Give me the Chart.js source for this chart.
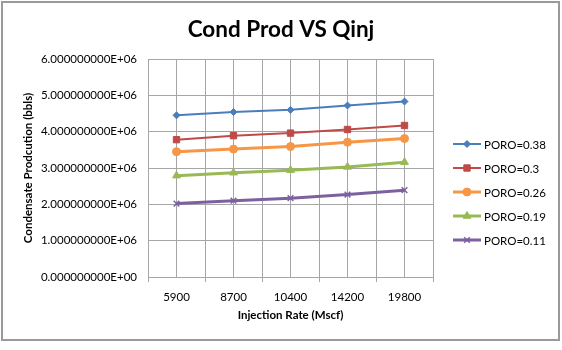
<!DOCTYPE html>
<html>
<head>
<meta charset="utf-8">
<script src="https://cdn.jsdelivr.net/npm/chart.js@4.4.0/dist/chart.umd.min.js"></script>
<style>
  html, body { margin: 0; padding: 0; background: #fff; }
  #wrap { width: 562px; height: 350px; }
</style>
</head>
<body>
<div id="wrap"><canvas id="chartCanvas" width="562" height="350"></canvas></div>
<script>
// data
const categories = ['5900', '8700', '10400', '14200', '19800'];
const seriesNames = ['PORO=0.38', 'PORO=0.3', 'PORO=0.26', 'PORO=0.19', 'PORO=0.11'];
const poro038 = [4450000, 4540000, 4600000, 4720000, 4830000];
const poro030 = [3780000, 3890000, 3960000, 4060000, 4170000];
const poro026 = [3450000, 3520000, 3590000, 3710000, 3810000];
const poro019 = [2790000, 2870000, 2940000, 3030000, 3160000];
const poro011 = [2020000, 2100000, 2170000, 2270000, 2390000];
const yTicks = [0, 1000000, 2000000, 3000000, 4000000, 5000000, 6000000];
const chartTitle = 'Cond Prod VS Qinj';

const colors = ['#4A7EBB', '#BE4B48', '#F79646', '#98B954', '#7D60A0'];
const markers = ['rectRot', 'rect', 'circle', 'triangle', 'crossRot'];
const markerSizes = [3.5, 4.5, 4, 4.5, 4];
const lineWidths = [2, 2, 3, 3, 3];
const seriesValues = [poro038, poro030, poro026, poro019, poro011];

const FONT = 'Lato, "Open Sans", sans-serif';

function sci(v) {
    const s = Number(v).toExponential(9);
    const parts = s.split('e');
    let exp = parseInt(parts[1], 10);
    const sign = exp < 0 ? '-' : '+';
    exp = Math.abs(exp);
    return parts[0] + 'E' + sign + (exp < 10 ? '0' + exp : '' + exp);
}

const datasets = seriesValues.map((vals, k) => ({
    label: seriesNames[k],
    data: vals.map((v, i) => ({ x: i + 0.5, y: v })),
    borderColor: colors[k],
    backgroundColor: colors[k],
    borderWidth: lineWidths[k],
    pointStyle: markers[k],
    pointRadius: markerSizes[k],
    pointBorderColor: colors[k],
    pointBackgroundColor: colors[k],
    pointBorderWidth: k === 4 ? 1.5 : 1,
    tension: 0
}));

// outer frame, title, plot right border
const framePlugin = {
    id: 'frame',
    beforeDraw(chart) {
        const ctx = chart.ctx;
        ctx.save();
        ctx.fillStyle = '#fff';
        ctx.fillRect(0, 0, chart.width, chart.height);
        ctx.strokeStyle = '#9a9a9a';
        ctx.lineWidth = 2;
        ctx.strokeRect(2, 2, 557, 338);
        ctx.fillStyle = '#000';
        ctx.font = 'bold 22.5px ' + FONT;
        ctx.textAlign = 'center';
        ctx.textBaseline = 'alphabetic';
        ctx.fillText(chartTitle, 281, 37);
        ctx.restore();
    },
    afterDatasetsDraw(chart) {
        const a = chart.chartArea;
        const ctx = chart.ctx;
        ctx.save();
        ctx.strokeStyle = '#a6a6a6';
        ctx.lineWidth = 1;
        ctx.beginPath();
        ctx.moveTo(a.right + 0.5, a.top);
        ctx.lineTo(a.right + 0.5, a.bottom);
        ctx.stroke();
        ctx.restore();
    }
};

// legend drawn as line + marker, like the spreadsheet one
const legendPlugin = {
    id: 'sideLegend',
    afterDraw(chart) {
        const ctx = chart.ctx;
        const x0 = 453, x1 = 481;
        const ys = [144, 168, 192, 216, 240];
        ctx.save();
        chart.data.datasets.forEach((ds, k) => {
            const y = ys[k];
            ctx.strokeStyle = ds.borderColor;
            ctx.lineWidth = ds.borderWidth;
            ctx.beginPath();
            ctx.moveTo(x0, y);
            ctx.lineTo(x1, y);
            ctx.stroke();
            ctx.fillStyle = ds.backgroundColor;
            ctx.strokeStyle = ds.borderColor;
            ctx.lineWidth = ds.pointBorderWidth;
            Chart.helpers.drawPoint(ctx, { pointStyle: ds.pointStyle, radius: ds.pointRadius, rotation: 0, borderWidth: ds.pointBorderWidth }, (x0 + x1) / 2, y);
            ctx.fillStyle = '#000';
            ctx.font = '11.5px ' + FONT;
            ctx.textBaseline = 'middle';
            ctx.textAlign = 'left';
            ctx.fillText(ds.label, 484, y + 1);
        });
        ctx.restore();
    }
};

const ctx = document.getElementById('chartCanvas').getContext('2d');
new Chart(ctx, {
    type: 'line',
    data: { datasets: datasets },
    options: {
        responsive: false,
        animation: false,
        devicePixelRatio: 1,
        layout: { padding: { left: 20, right: 129, top: 59, bottom: 28 } },
        plugins: {
            legend: { display: false },
            tooltip: { enabled: false },
            title: { display: false }
        },
        scales: {
            x: {
                type: 'linear',
                min: 0,
                max: 5,
                afterBuildTicks(scale) {
                    const t = [];
                    for (let i = 0; i <= 10; i++) t.push({ value: i / 2 });
                    scale.ticks = t;
                },
                afterFit(scale) { scale.height = 45; },
                grid: {
                    color: '#a6a6a6',
                    lineWidth: 1,
                    tickLength: 5,
                    tickColor(c) { return (c.tick && c.tick.value % 1 === 0) ? '#a6a6a6' : 'rgba(0,0,0,0)'; }
                },
                border: { color: '#a6a6a6' },
                ticks: {
                    autoSkip: false,
                    maxRotation: 0,
                    color: '#000',
                    padding: 8,
                    font: { family: FONT, size: 11.5 },
                    callback(v) {
                        const i = v - 0.5;
                        return Number.isInteger(i) ? categories[i] : '';
                    }
                },
                title: {
                    display: true,
                    text: 'Injection Rate (Mscf)',
                    color: '#000',
                    font: { family: FONT, size: 11.5, weight: 'bold' },
                    padding: { top: 4, bottom: 0 }
                }
            },
            y: {
                min: 0,
                max: 6000000,
                afterBuildTicks(scale) { scale.ticks = yTicks.map(v => ({ value: v })); },
                afterFit(scale) { scale.width = 128; },
                grid: { color: '#a6a6a6', lineWidth: 1, tickLength: 0, drawTicks: false },
                border: { color: '#a6a6a6' },
                ticks: {
                    color: '#000',
                    padding: 11,
                    font: { family: FONT, size: 11.5 },
                    callback(v) { return sci(v); }
                },
                title: {
                    display: true,
                    text: 'Condensate Prodcution (bbls)',
                    color: '#000',
                    font: { family: FONT, size: 11.5, weight: 'bold' },
                    padding: { top: 1, bottom: 2 }
                }
            }
        }
    },
    plugins: [framePlugin, legendPlugin]
});
</script>
</body>
</html>
